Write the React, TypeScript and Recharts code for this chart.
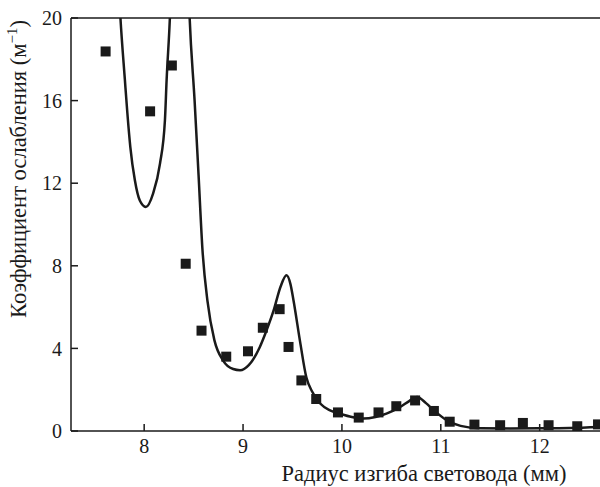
import React from 'react';
import { ComposedChart, Line, Scatter, XAxis, YAxis, ReferenceLine, Label } from 'recharts';

// theoretical curve
const curveX = [
  7.7, 7.76, 7.805, 7.83, 7.86, 7.906, 7.956, 8.017, 8.09, 8.16, 8.21, 8.227, 8.26, 8.3, 8.36, 8.42, 8.46,
  8.51, 8.55, 8.59, 8.64, 8.71, 8.8, 8.9, 8.97, 9.06, 9.17, 9.24, 9.31, 9.38, 9.44, 9.48, 9.51, 9.58, 9.64,
  9.7, 9.78, 9.88, 9.98, 10.1, 10.22, 10.34, 10.45, 10.59, 10.68, 10.76, 10.85, 10.93, 11.06, 11.2, 11.4,
  11.7, 12.0, 12.3, 12.61,
];
const curveY = [
  26, 20, 17, 15.4, 13.75, 12.14, 11.16, 10.85, 11.5, 12.95, 15.05, 17, 20, 26, 34, 26, 20,
  16, 12.4, 8.75, 6.3, 4.4, 3.4, 3.0, 2.94, 3.2, 4.07, 4.9, 5.85, 7.0, 7.54, 7.1, 6.33, 4.23, 2.6,
  1.9, 1.33, 1.0, 0.84, 0.68, 0.6, 0.68, 0.84, 1.16, 1.45, 1.65, 1.35, 1.0, 0.52, 0.25, 0.13,
  0.12, 0.13, 0.15, 0.2,
];

// measured points
const expX = [
  7.61, 8.06, 8.28, 8.42, 8.58, 8.83, 9.05, 9.2, 9.37, 9.46, 9.59, 9.74, 9.96, 10.17, 10.37, 10.55,
  10.74, 10.93, 11.09, 11.34, 11.6, 11.83, 12.09, 12.38, 12.59,
];
const expY = [
  18.38, 15.48, 17.7, 8.1, 4.86, 3.6, 3.86, 5.0, 5.9, 4.07, 2.45, 1.55, 0.9, 0.65, 0.9, 1.2,
  1.48, 0.97, 0.45, 0.31, 0.28, 0.39, 0.28, 0.23, 0.32,
];

const xTicks = [8, 9, 10, 11, 12];
const yTicks = [0, 4, 8, 12, 16, 20];

const curve = curveX.map((x, i) => ({ x, y: curveY[i] }));
const points = expX.map((x, i) => ({ x, y: expY[i] }));

const font = 'Liberation Serif';
const ink = '#1a1a1a';
const tickStyle = { fontSize: 20, fill: ink, style: { fontFamily: font } };

const Square = (p: any) => <rect x={p.cx - 5} y={p.cy - 5} width={10} height={10} fill={ink} />;

const YTitle = () => (
  <text transform="translate(26, 169) rotate(-90)" textAnchor="middle" style={{ fontFamily: font }} fontSize={22.5} fill={ink}>
    <tspan>Коэффициент ослабления (м</tspan>
    <tspan dy={-9} fontSize={15}>−1</tspan>
    <tspan dy={9}>)</tspan>
  </text>
);

const XTitle = () => (
  <text x={424} y={481} textAnchor="middle" style={{ fontFamily: font }} fontSize={22.5} fill={ink}>
    Радиус изгиба световода (мм)
  </text>
);

export default function App() {
  return (
    <div style={{ position: 'absolute', left: 0, top: 0 }}>
      <ComposedChart width={600} height={487} margin={{ top: 18, right: 0, left: 0, bottom: 0 }}>
        <XAxis
          dataKey="x"
          type="number"
          domain={[7.26, 12.61]}
          ticks={xTicks}
          allowDataOverflow
          height={56}
          stroke={ink}
          strokeWidth={1.5}
          tickSize={-7}
          tickMargin={15}
          tick={tickStyle}
        >
          <Label content={XTitle} />
        </XAxis>
        <YAxis
          dataKey="y"
          type="number"
          domain={[0, 20]}
          ticks={yTicks}
          allowDataOverflow
          width={71}
          stroke={ink}
          strokeWidth={1.5}
          tickSize={-7}
          tickMargin={16}
          tick={tickStyle}
        >
          <Label content={YTitle} />
        </YAxis>
        <ReferenceLine y={20} stroke={ink} strokeWidth={1.5} />
        <Line
          data={curve}
          dataKey="y"
          type="monotone"
          stroke={ink}
          strokeWidth={2.5}
          dot={false}
          isAnimationActive={false}
        />
        <Scatter data={points} dataKey="y" shape={Square} isAnimationActive={false} />
      </ComposedChart>
    </div>
  );
}
